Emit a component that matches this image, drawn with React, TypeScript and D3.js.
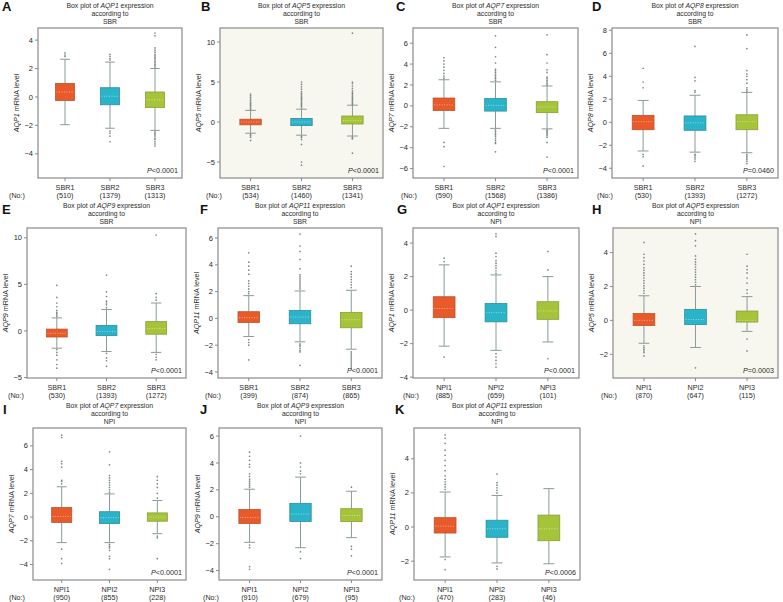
import React from "react";
import * as d3 from "d3";

// ---------- data ----------
const panelLetters = ["A", "B", "C", "D", "E", "F", "G", "H", "I", "J", "K"];
const genes = ["AQP1", "AQP5", "AQP7", "AQP8", "AQP9", "AQP11", "AQP1", "AQP5", "AQP7", "AQP9", "AQP11"];
const groupings = ["SBR", "SBR", "SBR", "SBR", "SBR", "SBR", "NPI", "NPI", "NPI", "NPI", "NPI"];
const sbrCategories = ["SBR1", "SBR2", "SBR3"];
const npiCategories = ["NPI1", "NPI2", "NPI3"];
const counts = [
  [510, 1379, 1313],
  [534, 1460, 1341],
  [590, 1568, 1386],
  [530, 1393, 1272],
  [530, 1393, 1272],
  [399, 874, 865],
  [885, 659, 101],
  [870, 647, 115],
  [950, 855, 228],
  [910, 679, 95],
  [470, 283, 46],
];
const pSymbols = ["<", "<", "<", "=", "<", "<", "<", "=", "<", "<", "<"];
const pValues = ["0.0001", "0.0001", "0.0001", "0.0460", "0.0001", "0.0001", "0.0001", "0.0003", "0.0001", "0.0001", "0.0006"];
const yTicks = [
  [-4, -2, 0, 2, 4],
  [-5, 0, 5, 10],
  [-6, -4, -2, 0, 2, 4, 6],
  [-4, -2, 0, 2, 4, 6, 8],
  [-5, 0, 5, 10],
  [-4, -2, 0, 2, 4, 6],
  [-4, -2, 0, 2, 4],
  [-2, 0, 2, 4],
  [-4, -2, 0, 2, 4, 6],
  [-4, -2, 0, 2, 4, 6],
  [-2, 0, 2, 4],
];
const yDomains = [
  [-5.7, 4.85],
  [-7.0, 11.75],
  [-6.9, 7.45],
  [-4.85, 8.2],
  [-5.05, 11.05],
  [-4.45, 6.75],
  [-4.05, 4.9],
  [-3.4, 5.45],
  [-5.3, 7.5],
  [-4.7, 6.6],
  [-3.1, 5.8],
];
const q1s = [
  [-0.25, -0.55, -0.75],
  [-0.35, -0.45, -0.25],
  [-0.45, -0.5, -0.65],
  [-0.65, -0.7, -0.65],
  [-0.65, -0.5, -0.35],
  [-0.3, -0.4, -0.7],
  [-0.45, -0.7, -0.55],
  [-0.3, -0.25, -0.1],
  [-0.45, -0.55, -0.35],
  [-0.5, -0.35, -0.35],
  [-0.35, -0.6, -0.8],
];
const medians = [
  [0.35, 0.05, -0.2],
  [0.0, 0.0, 0.2],
  [0.1, 0.05, -0.1],
  [0.05, -0.05, 0.05],
  [-0.25, -0.05, 0.25],
  [0.05, 0.1, -0.1],
  [0.1, -0.15, -0.05],
  [0.0, 0.05, 0.0],
  [0.05, -0.05, 0.0],
  [-0.05, 0.2, 0.1],
  [0.05, -0.1, -0.1],
];
const q3s = [
  [0.95, 0.65, 0.35],
  [0.35, 0.45, 0.75],
  [0.75, 0.7, 0.4],
  [0.6, 0.55, 0.65],
  [0.2, 0.6, 1.0],
  [0.5, 0.6, 0.45],
  [0.8, 0.4, 0.5],
  [0.4, 0.65, 0.55],
  [0.8, 0.45, 0.35],
  [0.55, 1.0, 0.6],
  [0.55, 0.4, 0.7],
];
const whiskerLows = [
  [-1.95, -2.2, -2.35],
  [-1.4, -1.65, -1.75],
  [-2.15, -2.15, -2.2],
  [-2.5, -2.6, -2.65],
  [-1.85, -2.2, -2.3],
  [-1.35, -1.75, -2.3],
  [-2.15, -2.4, -1.9],
  [-1.35, -1.6, -0.65],
  [-2.15, -2.15, -1.4],
  [-1.9, -2.3, -1.55],
  [-1.75, -2.1, -2.15],
];
const whiskerHighs = [
  [2.65, 2.45, 2.0],
  [1.45, 1.6, 2.1],
  [2.5, 2.3, 1.9],
  [1.9, 2.35, 2.6],
  [1.4, 2.3, 3.0],
  [1.7, 2.05, 2.1],
  [2.7, 2.1, 2.0],
  [1.45, 2.0, 1.4],
  [2.55, 1.95, 1.4],
  [2.05, 2.95, 1.9],
  [2.05, 1.85, 2.25],
];
const outliers = [
  [
    [2.85, 2.95, 3.1],
    [2.6, 2.7, 2.85, 3.0, -2.4, -2.55, -2.75, -3.15],
    [2.1, 2.2, 2.3, 2.4, 2.5, 2.6, 2.7, 2.8, 2.9, 3.0, 3.15, 3.3, 3.45, 4.3, 4.5, -2.45, -2.55, -2.65, -2.75, -2.9, -3.0, -3.15, -3.3, -3.45],
  ],
  [
    [1.6, 1.75, 1.9, 2.05, 2.2, 2.35, 2.5, 2.7, 2.9, 3.1, 3.3, 3.5, -1.55, -1.7, -1.9, -2.3],
    [1.75, 1.9, 2.05, 2.2, 2.35, 2.5, 2.65, 2.8, 2.95, 3.1, 3.25, 3.4, 3.6, 3.8, 4.1, 4.4, 4.7, 5.0, -1.8, -1.95, -2.2, -2.8, -5.0, -5.4],
    [2.2, 2.35, 2.5, 2.65, 2.8, 2.95, 3.1, 3.25, 3.4, 3.55, 3.7, 3.9, 4.2, 4.5, 4.8, 5.0, 11.1, -1.9, -2.0, -2.1, -3.9],
  ],
  [
    [2.65, 2.85, 3.1, 3.4, 3.7, 4.0, 4.3, 4.6, -3.5, -3.9, -5.8],
    [2.45, 2.6, 2.75, 2.9, 3.05, 3.2, 3.35, 3.5, 4.1, 4.7, 5.6, 6.7, -2.3, -2.45, -2.6, -2.75, -2.9, -3.1, -3.3, -3.5, -3.6, -4.4],
    [2.0, 2.15, 2.3, 2.45, 2.6, 2.75, 3.2, 3.45, 4.1, 4.9, 6.8, -2.3, -2.4, -2.5, -2.6, -2.7, -2.85, -3.0, -3.5, -4.9],
  ],
  [
    [3.0, 3.5, 4.7, -2.8, -3.0, -3.8],
    [2.6, 2.75, 3.6, 3.9, 6.6, -2.8, -2.9, -3.05, -3.2, -3.4],
    [2.7, 2.85, 3.0, 3.4, 3.7, 4.0, 4.2, 4.5, 6.4, 7.6, -2.8, -2.95, -3.1, -3.25, -3.4, -3.6],
  ],
  [
    [1.55, 1.7, 1.85, 2.0, 2.2, 2.6, 3.0, 3.6, 4.9, -2.0, -2.3, -2.6, -3.1, -3.6, -4.0],
    [2.5, 2.8, 3.0, 3.2, 3.7, 4.2, 6.0, -2.4, -2.9, -3.2, -3.8],
    [3.3, 3.6, 4.0, 10.3, -2.5, -2.8, -3.1],
  ],
  [
    [1.85, 2.0, 2.2, 2.4, 2.6, 2.8, 3.3, 3.6, 3.9, 4.2, 4.9, -1.6, -1.8, -2.0, -3.1],
    [2.2, 2.35, 2.5, 2.65, 2.8, 2.95, 3.1, 3.25, 3.7, 4.4, 5.0, 5.4, 6.3, -1.9, -2.0, -2.1, -2.25, -2.4, -2.5, -3.5],
    [2.3, 2.5, 2.7, 2.9, 3.1, 3.3, 3.5, 3.9, -2.5, -2.65, -2.8, -2.95, -3.1, -3.25, -3.4, -3.55, -3.7],
  ],
  [
    [2.9, 3.1, -2.8],
    [2.2, 2.35, 2.5, 2.65, 2.8, 2.95, 3.2, 3.4, 4.4, 4.55, -2.6, -2.8, -3.0, -3.2, -3.4],
    [2.4, 3.5, -2.9],
  ],
  [
    [1.6, 1.75, 1.9, 2.05, 2.2, 2.35, 2.5, 2.65, 2.8, 2.95, 3.1, 3.3, 3.5, 3.7, 3.9, 4.6, -1.5, -1.6, -1.7, -1.8, -1.9, -2.1],
    [2.1, 2.25, 2.4, 2.55, 2.7, 2.85, 3.0, 3.15, 3.3, 3.45, 3.6, 3.8, 4.4, 4.7, 5.1, -2.8],
    [1.6, 1.8, 2.2, 2.5, 2.8, 3.0, 3.2, 3.9, -1.1, -1.8],
  ],
  [
    [2.8, 3.0, 3.1, 4.2, 4.5, 4.7, 6.7, 6.9, -2.7, -3.5, -3.9],
    [2.1, 2.3, 2.5, 2.7, 2.9, 3.1, 3.3, 3.5, 4.4, 5.5, -2.3, -2.45, -2.6, -2.8, -3.3, -3.5, -4.4],
    [1.6, 2.0, 2.5, 2.8, 3.1, 3.4, -1.6, -1.75, -3.5],
  ],
  [
    [2.2, 2.35, 2.5, 2.65, 2.8, 3.0, 3.2, 3.7, 3.9, 4.2, 4.5, 4.8, -2.1, -2.3, -3.7, -3.9],
    [3.2, 3.4, 3.7, 4.0, 6.0, -2.6, -3.1],
    [2.2, -2.2, -2.4, -2.9],
  ],
  [
    [2.2, 2.35, 2.5, 2.65, 2.8, 3.0, 3.3, 3.6, 3.9, 4.2, 4.5, 4.9, 5.2, 5.4, -1.9, -2.5],
    [2.0, 2.15, 2.3, 2.45, 2.6, 3.1, -2.3, -2.45],
    [],
  ],
];

// ---------- layout (positions, not data) ----------
const frames = [
  [38, 182, 28, 178],
  [220, 383, 28, 178],
  [413, 578, 28, 178],
  [612, 778, 28, 178],
  [27, 186, 228, 378],
  [218, 382, 228, 378],
  [413, 579, 228, 378],
  [613, 778, 228, 378],
  [33, 186, 428, 580],
  [219, 382, 428, 580],
  [414, 580, 428, 580],
];
const letterPos = [
  [2, 11], [201, 11], [396, 11], [592, 11],
  [2, 214], [200, 214], [397, 214], [592, 214],
  [3, 414], [200, 414], [395, 414],
];
const noLabelX = [17, 214, 409, 605, 16, 213, 411, 609, 17, 211, 407];
const tintedPanels = [1, 7];

const boxColors = ["#e85a2a", "#2bb4c9", "#a6c43a"];
const boxStrokes = ["#b9542f", "#2a8f9c", "#86a033"];
const whiskerColor = "#8b9a9a";
const outlierColor = "#7d8686";
const frameColor = "#8a8a8a";
const textColor = "#2a2a2a";
const FONT = "'Liberation Sans', Arial, sans-serif";

function Panel({ i }: { i: number }) {
  const [x0, x1, y0, y1] = frames[i];
  const cats = groupings[i] === "SBR" ? sbrCategories : npiCategories;
  const x = d3.scalePoint<string>().domain(cats).range([x0, x1]).padding(0.6);
  const y = d3.scaleLinear().domain(yDomains[i]).range([y1, y0]);
  const bw = x.step() * 0.42;
  const cap = bw * 0.5;
  const cx = (x0 + x1) / 2;
  const cy = (y0 + y1) / 2;
  const ylx = x0 - 19;
  return (
    <g>
      <text x={letterPos[i][0]} y={letterPos[i][1]} fontSize={13} fontWeight="bold" fill="#111" fontFamily={FONT}>
        {panelLetters[i]}
      </text>
      <g fontFamily={FONT} fontSize={6.8} fill={textColor} textAnchor="middle">
        <text x={cx} y={y0 - 20.5}>
          Box plot of <tspan fontStyle="italic">{genes[i]}</tspan> expression
        </text>
        <text x={cx} y={y0 - 12.5}>according to</text>
        <text x={cx} y={y0 - 4.5}>{groupings[i]}</text>
      </g>
      <rect
        x={x0}
        y={y0}
        width={x1 - x0}
        height={y1 - y0}
        fill={tintedPanels.includes(i) ? "#f7f7ef" : "#ffffff"}
        stroke={frameColor}
        strokeWidth={1.2}
      />
      {yTicks[i].map((t) => (
        <g key={t}>
          <line x1={x0 - 3} x2={x0} y1={y(t)} y2={y(t)} stroke={frameColor} strokeWidth={1} />
          <text x={x0 - 5} y={y(t) + 2.6} fontSize={7.5} textAnchor="end" fill={textColor} fontFamily={FONT}>
            {t < 0 ? "\u2212" + Math.abs(t) : t}
          </text>
        </g>
      ))}
      <text
        transform={`translate(${ylx},${cy}) rotate(-90)`}
        fontSize={7.2}
        textAnchor="middle"
        fill={textColor}
        fontFamily={FONT}
      >
        <tspan fontStyle="italic">{genes[i]}</tspan> mRNA level
      </text>
      {cats.map((c, j) => {
        const px = x(c) as number;
        return (
          <g key={c}>
            <line x1={px} x2={px} y1={y1} y2={y1 + 3} stroke={frameColor} strokeWidth={1} />
            <line x1={px} x2={px} y1={y(whiskerLows[i][j])} y2={y(q1s[i][j])} stroke={whiskerColor} strokeWidth={1} />
            <line x1={px} x2={px} y1={y(q3s[i][j])} y2={y(whiskerHighs[i][j])} stroke={whiskerColor} strokeWidth={1} />
            <line
              x1={px - cap / 2}
              x2={px + cap / 2}
              y1={y(whiskerLows[i][j])}
              y2={y(whiskerLows[i][j])}
              stroke={whiskerColor}
              strokeWidth={1}
            />
            <line
              x1={px - cap / 2}
              x2={px + cap / 2}
              y1={y(whiskerHighs[i][j])}
              y2={y(whiskerHighs[i][j])}
              stroke={whiskerColor}
              strokeWidth={1}
            />
            <rect
              x={px - bw / 2}
              y={y(q3s[i][j])}
              width={bw}
              height={y(q1s[i][j]) - y(q3s[i][j])}
              fill={boxColors[j]}
              stroke={boxStrokes[j]}
              strokeWidth={0.8}
            />
            <line
              x1={px - bw / 2 + 1}
              x2={px + bw / 2 - 1}
              y1={y(medians[i][j])}
              y2={y(medians[i][j])}
              stroke="#ffffff"
              strokeOpacity={0.7}
              strokeWidth={0.7}
              strokeDasharray="1,1.5"
            />
            {outliers[i][j].map((v, k) => (
              <circle key={k} cx={px} cy={y(v)} r={0.85} fill={outlierColor} />
            ))}
            <text x={px} y={y1 + 11.5} fontSize={7.2} textAnchor="middle" fill={textColor} fontFamily={FONT}>
              {c}
            </text>
            <text x={px} y={y1 + 19.5} fontSize={7.2} textAnchor="middle" fill={textColor} fontFamily={FONT}>
              ({counts[i][j]})
            </text>
          </g>
        );
      })}
      <text x={noLabelX[i]} y={y1 + 19.5} fontSize={7.2} textAnchor="middle" fill={textColor} fontFamily={FONT}>
        (No:)
      </text>
      <text x={x1 - 4} y={y1 - 5} fontSize={7.2} textAnchor="end" fill={textColor} fontFamily={FONT}>
        <tspan fontStyle="italic">P</tspan>
        {pSymbols[i]}
        {pValues[i]}
      </text>
    </g>
  );
}

export default function App() {
  return (
    <svg
      width={783}
      height={602}
      viewBox="0 0 783 602"
      style={{ position: "absolute", left: 0, top: 0, background: "#ffffff" }}
    >
      <rect width={783} height={602} fill="#ffffff" />
      {panelLetters.map((_, i) => (
        <Panel key={i} i={i} />
      ))}
    </svg>
  );
}
